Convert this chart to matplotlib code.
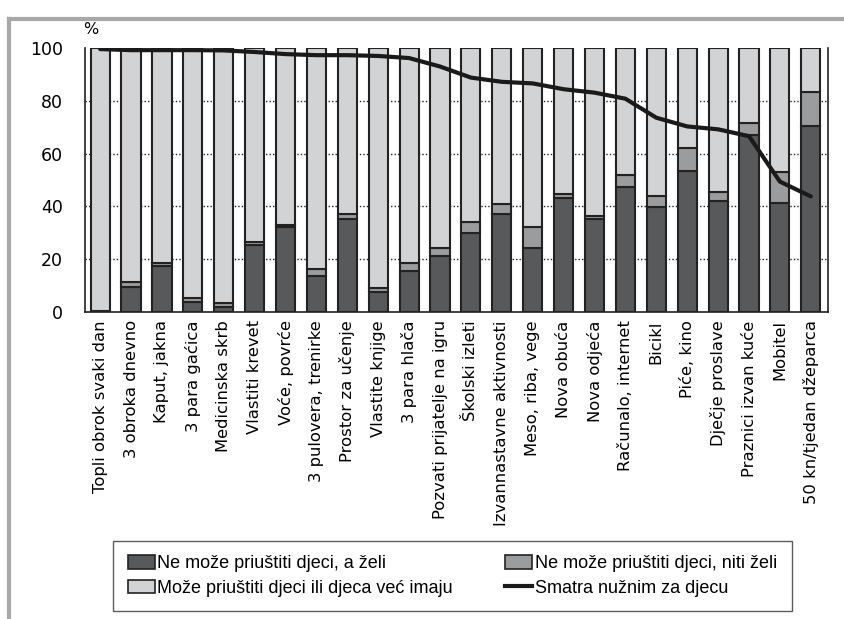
import matplotlib.pyplot as plt
import numpy as np
from matplotlib.patches import Patch
from matplotlib.lines import Line2D

categories = ["Topli obrok svaki dan", "3 obroka dnevno", "Kaput, jakna", "3 para gaćica",
              "Medicinska skrb", "Vlastiti krevet", "Voće, povrće", "3 pulovera, trenirke",
              "Prostor za učenje", "Vlastite knjige", "3 para hlača", "Pozvati prijatelje na igru",
              "Školski izleti", "Izvannastavne aktivnosti", "Meso, riba, vege", "Nova obuća",
              "Nova odjeća", "Računalo, internet", "Bicikl", "Piće, kino", "Dječje proslave",
              "Praznici izvan kuće", "Mobitel", "50 kn/tjedan džeparca"]
# ne moze priustiti, a zeli
ne_zeli = [0.3, 9.5, 17.3, 3.8, 1.9, 25.2, 32.3, 13.7, 35.3, 7.6, 15.6, 21.3,
           30.0, 37.1, 24.4, 43.3, 35.3, 47.5, 39.9, 53.5, 42.0, 67.1, 41.1, 70.5]
# ne moze priustiti, niti zeli
ne_niti = [0.2, 1.9, 1.3, 1.6, 1.5, 1.3, 0.6, 2.4, 2.0, 1.3, 2.8, 2.8,
           3.9, 3.8, 7.9, 1.4, 1.2, 4.4, 4.1, 8.5, 3.3, 4.4, 12.1, 12.7]
# smatra nuznim za djecu
nuzno = [99.6, 99.2, 99.2, 99.2, 99.1, 98.5, 97.7, 97.3, 97.3, 97.0, 96.2, 93.0,
         88.8, 87.2, 86.6, 84.4, 83.1, 80.8, 73.6, 70.3, 69.2, 66.6, 49.4, 43.8]
yticks = [0, 20, 40, 60, 80, 100]

c_dark = '#58595b'
c_mid = '#9b9c9e'
c_light = '#d2d3d5'
c_edge = '#222222'

x = np.arange(len(categories))
a = np.array(ne_zeli)
b = np.array(ne_niti)
c = 100 - a - b

fig = plt.figure(figsize=(8.45, 6.19), dpi=100)
ax = fig.add_axes([0.1006, 0.496, 0.8794, 0.4264])

for yv in yticks[1:-1]:
    ax.axhline(yv, color='#222222', lw=1, ls=(0, (1, 1.5)), zorder=0)

w = 0.62
ax.bar(x, a, w, color=c_dark, edgecolor=c_edge, lw=1.5, zorder=2)
ax.bar(x, b, w, bottom=a, color=c_mid, edgecolor=c_edge, lw=1.5, zorder=2)
ax.bar(x, c, w, bottom=a + b, color=c_light, edgecolor=c_edge, lw=1.5, zorder=2)
ax.plot(x, nuzno, color='#1a1a1a', lw=3, zorder=3, solid_capstyle='round')

ax.set_xlim(-0.49, 23.56)
ax.set_ylim(0, 100)
ax.set_yticks(yticks)
ax.set_yticklabels([str(v) for v in yticks], fontsize=12.5)
ax.set_xticks(x)
ax.set_xticklabels(categories, rotation=90, fontsize=11.8)
ax.tick_params(length=0, pad=6)
ax.tick_params(axis='y', pad=16)
ax.spines['top'].set_visible(False)
for s in ['left', 'right', 'bottom']:
    ax.spines[s].set_linewidth(1.2)
    ax.spines[s].set_color('#222222')

fig.text(0.098, 0.953, '%', fontsize=11.5, ha='left', va='center')

# okvir slike
fig.add_artist(Line2D([0.0107, 0.0107], [0, 0.97], transform=fig.transFigure,
                      color='#a8a8a8', lw=3))
fig.add_artist(Line2D([0.0107, 1], [0.969, 0.969], transform=fig.transFigure,
                      color='#a8a8a8', lw=3))

handles = [Patch(facecolor=c_dark, edgecolor=c_edge, lw=1.2),
           Patch(facecolor=c_light, edgecolor=c_edge, lw=1.2),
           Patch(facecolor=c_mid, edgecolor=c_edge, lw=1.2),
           Line2D([], [], color='#1a1a1a', lw=3)]
labels = ["Ne može priuštiti djeci, a želi", "Može priuštiti djeci ili djeca već imaju",
          "Ne može priuštiti djeci, niti želi", "Smatra nužnim za djecu"]
leg = fig.legend(handles, labels, ncol=2, loc='lower left',
                 bbox_to_anchor=(0.134, 0.013, 0.803, 0.11), mode='expand',
                 prop={'family': ['Liberation Sans Narrow', 'Liberation Sans'], 'size': 13},
                 frameon=True, fancybox=False, edgecolor='#333333',
                 handlelength=1.5, handleheight=0.75, handletextpad=0.15,
                 labelspacing=0.4, borderaxespad=0, borderpad=0.8, columnspacing=1.0)
leg.get_frame().set_linewidth(1)

fig.savefig('out.png', dpi=100)
